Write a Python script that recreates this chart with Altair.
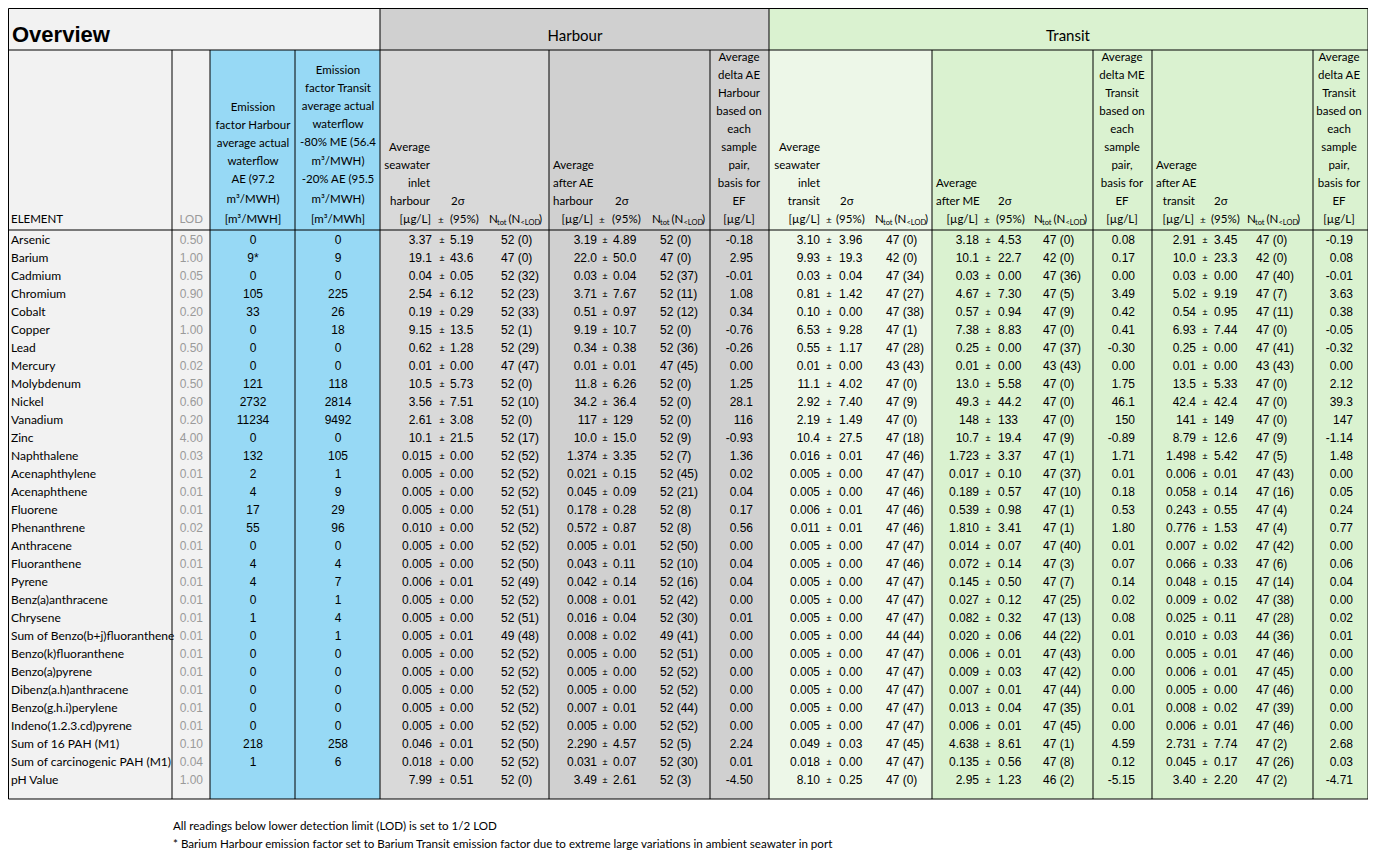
import altair as alt
import pandas as pd

# ---------------- data ----------------
elements = ["Arsenic", "Barium", "Cadmium", "Chromium", "Cobalt", "Copper", "Lead", "Mercury",
            "Molybdenum", "Nickel", "Vanadium", "Zinc", "Naphthalene", "Acenaphthylene",
            "Acenaphthene", "Fluorene", "Phenanthrene", "Anthracene", "Fluoranthene", "Pyrene",
            "Benz(a)anthracene", "Chrysene", "Sum of Benzo(b+j)fluoranthene", "Benzo(k)fluoranthene",
            "Benzo(a)pyrene", "Dibenz(a.h)anthracene", "Benzo(g.h.i)perylene", "Indeno(1.2.3.cd)pyrene",
            "Sum of 16 PAH (M1)", "Sum of carcinogenic PAH (M1)", "pH Value"]
lod = [0.50, 1.00, 0.05, 0.90, 0.20, 1.00, 0.50, 0.02, 0.50, 0.60, 0.20, 4.00, 0.03, 0.01, 0.01,
       0.01, 0.02, 0.01, 0.01, 0.01, 0.01, 0.01, 0.01, 0.01, 0.01, 0.01, 0.01, 0.01, 0.10, 0.04, 1.00]
ef_harbour = [0, 9, 0, 105, 33, 0, 0, 0, 121, 2732, 11234, 0, 132, 2, 4, 17, 55, 0, 4, 4, 0, 1,
              0, 0, 0, 0, 0, 0, 218, 1, None]
ef_harbour_flag = ["", "*"] + [""] * 29
ef_transit = [0, 9, 0, 225, 26, 18, 0, 0, 118, 2814, 9492, 0, 105, 1, 9, 29, 96, 0, 4, 7, 1, 4,
              1, 0, 0, 0, 0, 0, 258, 6, None]

h_in_mean = ["3.37", "19.1", "0.04", "2.54", "0.19", "9.15", "0.62", "0.01", "10.5", "3.56", "2.61",
             "10.1", "0.015", "0.005", "0.005", "0.005", "0.010", "0.005", "0.005", "0.006", "0.005",
             "0.005", "0.005", "0.005", "0.005", "0.005", "0.005", "0.005", "0.046", "0.018", "7.99"]
h_in_2s = ["5.19", "43.6", "0.05", "6.12", "0.29", "13.5", "1.28", "0.00", "5.73", "7.51", "3.08",
           "21.5", "0.00", "0.00", "0.00", "0.00", "0.00", "0.00", "0.00", "0.01", "0.00", "0.00",
           "0.01", "0.00", "0.00", "0.00", "0.00", "0.00", "0.01", "0.00", "0.51"]
h_in_n = [52, 47, 52, 52, 52, 52, 52, 47, 52, 52, 52, 52, 52, 52, 52, 52, 52, 52, 52, 52, 52, 52,
          49, 52, 52, 52, 52, 52, 52, 52, 52]
h_in_nlod = [0, 0, 32, 23, 33, 1, 29, 47, 0, 10, 0, 17, 52, 52, 52, 51, 52, 52, 50, 49, 52, 51,
             48, 52, 52, 52, 52, 52, 50, 52, 0]

h_ae_mean = ["3.19", "22.0", "0.03", "3.71", "0.51", "9.19", "0.34", "0.01", "11.8", "34.2", "117",
             "10.0", "1.374", "0.021", "0.045", "0.178", "0.572", "0.005", "0.043", "0.042", "0.008",
             "0.016", "0.008", "0.005", "0.005", "0.005", "0.007", "0.005", "2.290", "0.031", "3.49"]
h_ae_2s = ["4.89", "50.0", "0.04", "7.67", "0.97", "10.7", "0.38", "0.01", "6.26", "36.4", "129",
           "15.0", "3.35", "0.15", "0.09", "0.28", "0.87", "0.01", "0.11", "0.14", "0.01", "0.04",
           "0.02", "0.00", "0.00", "0.00", "0.01", "0.00", "4.57", "0.07", "2.61"]
h_ae_n = [52, 47, 52, 52, 52, 52, 52, 47, 52, 52, 52, 52, 52, 52, 52, 52, 52, 52, 52, 52, 52, 52,
          49, 52, 52, 52, 52, 52, 52, 52, 52]
h_ae_nlod = [0, 0, 37, 11, 12, 0, 36, 45, 0, 0, 0, 9, 7, 45, 21, 8, 8, 50, 10, 16, 42, 30,
             41, 51, 52, 52, 44, 52, 5, 30, 3]
h_delta_ae = ["-0.18", "2.95", "-0.01", "1.08", "0.34", "-0.76", "-0.26", "0.00", "1.25", "28.1",
              "116", "-0.93", "1.36", "0.02", "0.04", "0.17", "0.56", "0.00", "0.04", "0.04", "0.00",
              "0.01", "0.00", "0.00", "0.00", "0.00", "0.00", "0.00", "2.24", "0.01", "-4.50"]

t_in_mean = ["3.10", "9.93", "0.03", "0.81", "0.10", "6.53", "0.55", "0.01", "11.1", "2.92", "2.19",
             "10.4", "0.016", "0.005", "0.005", "0.006", "0.011", "0.005", "0.005", "0.005", "0.005",
             "0.005", "0.005", "0.005", "0.005", "0.005", "0.005", "0.005", "0.049", "0.018", "8.10"]
t_in_2s = ["3.96", "19.3", "0.04", "1.42", "0.00", "9.28", "1.17", "0.00", "4.02", "7.40", "1.49",
           "27.5", "0.01", "0.00", "0.00", "0.01", "0.01", "0.00", "0.00", "0.00", "0.00", "0.00",
           "0.00", "0.00", "0.00", "0.00", "0.00", "0.00", "0.03", "0.00", "0.25"]
t_in_n = [47, 42, 47, 47, 47, 47, 47, 43, 47, 47, 47, 47, 47, 47, 47, 47, 47, 47, 47, 47, 47, 47,
          44, 47, 47, 47, 47, 47, 47, 47, 47]
t_in_nlod = [0, 0, 34, 27, 38, 1, 28, 43, 0, 9, 0, 18, 46, 47, 46, 46, 46, 47, 46, 47, 47, 47,
             44, 47, 47, 47, 47, 47, 45, 47, 0]

t_me_mean = ["3.18", "10.1", "0.03", "4.67", "0.57", "7.38", "0.25", "0.01", "13.0", "49.3", "148",
             "10.7", "1.723", "0.017", "0.189", "0.539", "1.810", "0.014", "0.072", "0.145", "0.027",
             "0.082", "0.020", "0.006", "0.009", "0.007", "0.013", "0.006", "4.638", "0.135", "2.95"]
t_me_2s = ["4.53", "22.7", "0.00", "7.30", "0.94", "8.83", "0.00", "0.00", "5.58", "44.2", "133",
           "19.4", "3.37", "0.10", "0.57", "0.98", "3.41", "0.07", "0.14", "0.50", "0.12", "0.32",
           "0.06", "0.01", "0.03", "0.01", "0.04", "0.01", "8.61", "0.56", "1.23"]
t_me_n = [47, 42, 47, 47, 47, 47, 47, 43, 47, 47, 47, 47, 47, 47, 47, 47, 47, 47, 47, 47, 47, 47,
          44, 47, 47, 47, 47, 47, 47, 47, 46]
t_me_nlod = [0, 0, 36, 5, 9, 0, 37, 43, 0, 0, 0, 9, 1, 37, 10, 1, 1, 40, 3, 7, 25, 13,
             22, 43, 42, 44, 35, 45, 1, 8, 2]
t_delta_me = ["0.08", "0.17", "0.00", "3.49", "0.42", "0.41", "-0.30", "0.00", "1.75", "46.1", "150",
              "-0.89", "1.71", "0.01", "0.18", "0.53", "1.80", "0.01", "0.07", "0.14", "0.02", "0.08",
              "0.01", "0.00", "0.00", "0.00", "0.01", "0.00", "4.59", "0.12", "-5.15"]

t_ae_mean = ["2.91", "10.0", "0.03", "5.02", "0.54", "6.93", "0.25", "0.01", "13.5", "42.4", "141",
             "8.79", "1.498", "0.006", "0.058", "0.243", "0.776", "0.007", "0.066", "0.048", "0.009",
             "0.025", "0.010", "0.005", "0.006", "0.005", "0.008", "0.006", "2.731", "0.045", "3.40"]
t_ae_2s = ["3.45", "23.3", "0.00", "9.19", "0.95", "7.44", "0.00", "0.00", "5.33", "42.4", "149",
           "12.6", "5.42", "0.01", "0.14", "0.55", "1.53", "0.02", "0.33", "0.15", "0.02", "0.11",
           "0.03", "0.01", "0.01", "0.00", "0.02", "0.01", "7.74", "0.17", "2.20"]
t_ae_n = [47, 42, 47, 47, 47, 47, 47, 43, 47, 47, 47, 47, 47, 47, 47, 47, 47, 47, 47, 47, 47, 47,
          44, 47, 47, 47, 47, 47, 47, 47, 47]
t_ae_nlod = [0, 0, 40, 7, 11, 0, 41, 43, 0, 0, 0, 9, 5, 43, 16, 4, 4, 42, 6, 14, 38, 28,
             36, 46, 45, 46, 39, 46, 2, 26, 2]
t_delta_ae = ["-0.19", "0.08", "-0.01", "3.63", "0.38", "-0.05", "-0.32", "0.00", "2.12", "39.3",
              "147", "-1.14", "1.48", "0.00", "0.05", "0.24", "0.77", "0.00", "0.06", "0.04", "0.00",
              "0.02", "0.01", "0.00", "0.00", "0.00", "0.00", "0.00", "2.68", "0.03", "-4.71"]

footnotes = ["All readings below lower detection limit (LOD) is set to 1/2 LOD",
             "* Barium Harbour emission factor set to Barium Transit emission factor due to extreme large variations in ambient seawater in port"]

# ---------------- layout ----------------
W, H = 1360, 845
OFF = 8
ROW0, ROW_H = 240, 18
TOP, TITLE_B, HEAD_B, BOT = 8.5, 50, 230, 799
LEFT, RIGHT = 8.5, 1368
HEAD_FONT = "Lato"
NUM_FONT = "Liberation Sans"
GRAY_TXT = "#9a9a9a"
HS = 11.5  # header text size

texts = []


def T(x, y, s, align="left", font=HEAD_FONT, size=HS, color="#000000", weight="normal"):
    texts.append(dict(x=x, y=y, text=s, align=align, font=font, size=size, color=color, weight=weight))


def ntot(x0, y):
    T(x0, y, "N")
    T(x0 + 8, y + 3, "tot", size=7.5)
    T(x0 + 19.5, y, "(N")
    T(x0 + 31.5, y + 3, "<LOD", size=7.5)
    T(x0 + 50, y, ")")


# title row
T(12, 35, "Overview", font=NUM_FONT, size=22, weight="bold")
T(575, 36, "Harbour", align="center", size=15)
T(1068, 36, "Transit", align="center", size=15)

# header row
T(11, 220, "ELEMENT")
T(203, 220, "LOD", align="right", color=GRAY_TXT)
for s, y in zip(["Emission", "factor Harbour", "average actual", "waterflow", "AE (97.2", "m³/MWH)", "[m³/MWH]"],
                [108, 126, 144, 162, 180, 200, 220]):
    T(253, y, s, align="center")
for s, y in zip(["Emission", "factor Transit", "average actual", "waterflow", "-80% ME (56.4", "m³/MWH)",
                 "-20% AE (95.5", "m³/MWH)", "[m³/MWh]"],
                [71, 89, 107, 125, 143, 162, 180, 200, 220]):
    T(338, y, s, align="center")

delta_ys = [58, 76, 94, 112, 130, 148, 166, 184, 202, 220]
for cx, word, grp in [(739, "delta AE", "Harbour"), (1122, "delta ME", "Transit"), (1339, "delta AE", "Transit")]:
    for s, y in zip(["Average", word, grp, "based on", "each", "sample", "pair,", "basis for", "EF", "[µg/L]"], delta_ys):
        T(cx, y, s, align="center")

# sub-header blocks: (label lines, ys, label x, label align, 2σ x, unit right, ± x, (95%) x, N x)
blocks_head = [
    (["Average", "seawater", "inlet", "harbour"], [148, 166, 184, 202], 430, "right", 451, 431, 441, 450, 489),
    (["Average", "after AE", "harbour"], [166, 184, 202], 553, "left", 615, 593, 602, 612, 652),
    (["Average", "seawater", "inlet", "transit"], [148, 166, 184, 202], 820, "right", 840, 820, 829, 836, 875),
    (["Average", "after ME"], [184, 202], 936, "left", 998, 978, 987, 996, 1034),
    (["Average", "after AE"], [166, 184], 1156, "left", 1214, 1194, 1203, 1211, 1247),
]
for lines, ys, lx, la, sx, ux, px, qx, nx in blocks_head:
    for s, y in zip(lines, ys):
        T(lx, y, s, align=la)
    T(sx, 202, "2σ")
    T(ux, 220, "[µg/L]", align="right")
    T(px, 220, "±", align="center", size=10)
    T(qx, 220, "(95%)")
    ntot(nx, 220)
T(1195, 202, "transit", align="right")

# body
blocks_body = [
    (h_in_mean, h_in_2s, h_in_n, h_in_nlod, 432, 442, 450, 501),
    (h_ae_mean, h_ae_2s, h_ae_n, h_ae_nlod, 597, 605, 613, 660),
    (t_in_mean, t_in_2s, t_in_n, t_in_nlod, 820, 829, 839, 886),
    (t_me_mean, t_me_2s, t_me_n, t_me_nlod, 979, 988, 998, 1043),
    (t_ae_mean, t_ae_2s, t_ae_n, t_ae_nlod, 1196, 1205, 1214, 1256),
]
for i, name in enumerate(elements):
    y = ROW0 + ROW_H * i
    T(11, y, name, size=12)
    T(203, y, f"{lod[i]:.2f}", align="right", font=NUM_FONT, size=12, color=GRAY_TXT)
    if ef_harbour[i] is not None:
        T(253, y, f"{ef_harbour[i]}{ef_harbour_flag[i]}", align="center", font=NUM_FONT, size=12)
    if ef_transit[i] is not None:
        T(338, y, f"{ef_transit[i]}", align="center", font=NUM_FONT, size=12)
    for mean, s2, n, nl, vx, px, sx, nx in blocks_body:
        T(vx, y, mean[i], align="right", font=NUM_FONT, size=12)
        T(px, y, "±", align="center", font=NUM_FONT, size=9)
        T(sx, y, s2[i], font=NUM_FONT, size=12)
        T(nx, y, f"{n[i]} ({nl[i]})", font=NUM_FONT, size=12)
    T(753, y, h_delta_ae[i], align="right", font=NUM_FONT, size=12)
    T(1135, y, t_delta_me[i], align="right", font=NUM_FONT, size=12)
    T(1353, y, t_delta_ae[i], align="right", font=NUM_FONT, size=12)

for k, s in enumerate(footnotes):
    T(173, 827 + 17.5 * k, s, size=11.6)

text_df = pd.DataFrame(texts)

# cell fills
BLUE = "#97d9f5"
fills = pd.DataFrame([
    dict(x=LEFT, x2=380, y=TOP, y2=TITLE_B, c="#f2f2f2"),
    dict(x=380, x2=769, y=TOP, y2=TITLE_B, c="#d0d0d0"),
    dict(x=769, x2=RIGHT, y=TOP, y2=TITLE_B, c="#daf2d0"),
    dict(x=LEFT, x2=210, y=TITLE_B, y2=BOT, c="#f2f2f2"),
    dict(x=210, x2=380, y=TITLE_B, y2=BOT, c=BLUE),
    dict(x=380, x2=549, y=TITLE_B, y2=BOT, c="#d9d9d9"),
    dict(x=549, x2=769, y=TITLE_B, y2=BOT, c="#d0d0d0"),
    dict(x=769, x2=932, y=TITLE_B, y2=BOT, c="#edf7e8"),
    dict(x=932, x2=RIGHT, y=TITLE_B, y2=BOT, c="#daf2d0"),
])

# borders
rules = []
for yy in [TOP, TITLE_B, HEAD_B, BOT]:
    rules.append(dict(x=LEFT, x2=RIGHT, y=yy, y2=yy))
for xx in [LEFT, 380, 769, RIGHT]:
    rules.append(dict(x=xx, x2=xx, y=TOP, y2=BOT))
for xx in [172, 210, 295, 549, 710, 932, 1093, 1152, 1313]:
    rules.append(dict(x=xx, x2=xx, y=TITLE_B, y2=BOT))
rules_df = pd.DataFrame(rules)

xs = alt.Scale(domain=[OFF, OFF + W], nice=False, zero=False)
ys = alt.Scale(domain=[OFF, OFF + H], nice=False, zero=False, reverse=True)

rect_layer = alt.Chart(fills).mark_rect().encode(
    x=alt.X("x:Q", scale=xs, axis=None), x2="x2:Q",
    y=alt.Y("y:Q", scale=ys, axis=None), y2="y2:Q",
    color=alt.Color("c:N", scale=None),
)
rule_layer = alt.Chart(rules_df).mark_rule(color="#000000", strokeWidth=1).encode(
    x=alt.X("x:Q", scale=xs, axis=None), x2="x2:Q",
    y=alt.Y("y:Q", scale=ys, axis=None), y2="y2:Q",
)

layers = [rect_layer, rule_layer]
for (align, font, weight), sub in text_df.groupby(["align", "font", "weight"]):
    layers.append(
        alt.Chart(sub).mark_text(align=align, baseline="middle", font=font, fontWeight=weight).encode(
            x=alt.X("x:Q", scale=xs, axis=None),
            y=alt.Y("y:Q", scale=ys, axis=None),
            text="text:N",
            color=alt.Color("color:N", scale=None),
            size=alt.Size("size:Q", scale=None),
        )
    )

chart = alt.layer(*layers).properties(
    width=W, height=H, padding=0, autosize=alt.AutoSizeParams(type="none")
).configure_view(stroke=None)

chart.save("out.html", embed_options={"renderer": "svg", "actions": False})
